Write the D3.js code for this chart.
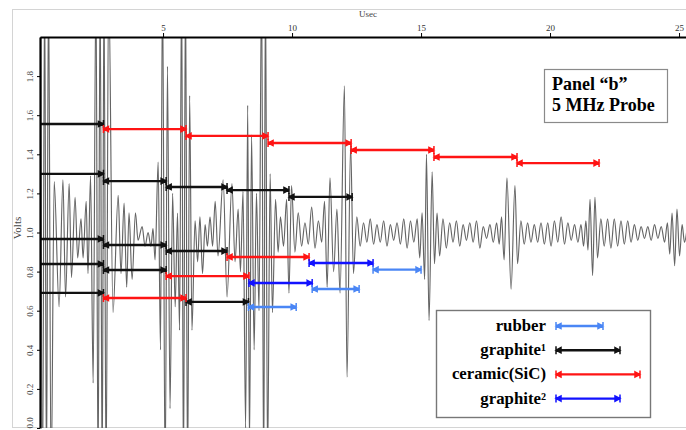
<!DOCTYPE html>
<html>
<head>
<meta charset="utf-8">
<script src="https://cdn.jsdelivr.net/npm/d3@7"></script>
<style>
body { margin: 0; background: #fff; }
svg { display: block; font-family: 'Liberation Serif', 'Times New Roman', serif; }
</style>
</head>
<body>
<svg id="chart" width="686" height="430"></svg>
<script>
// waveform as [usec, volts] extrema
const waveEarly = [[0.25,2.3],[0.33,-0.3],[0.41,2.3],[0.48,-0.3],[0.56,2.3],[0.66,-0.3],[0.78,1.26],[0.97,0.62],
  [1.12,1.27],[1.22,0.67],[1.36,1.25],[1.45,0.77],[1.59,1.18],[1.69,0.87],[1.82,1.07],[1.90,0.87],[2.02,1.16],
  [2.09,0.79],[2.19,1.29],[2.29,0.23],[2.40,2.3],[2.48,-0.3],[2.56,2.3],[2.64,-0.3],[2.71,2.3],[2.79,-0.3],
  [2.89,2.3],[3.06,0.59],[3.26,1.19],[3.37,0.79],[3.49,1.15],[3.59,0.72],[3.68,1.10],[3.80,0.76],[3.93,1.10],
  [4.03,0.96],[4.19,1.03],[4.30,0.93],[4.42,1.0],[4.53,0.93],[4.61,1.02],[4.69,0.86],[4.81,1.36],[4.90,0.4],
  [4.98,2.3],[5.08,-0.3],[5.17,1.85],[5.27,0.1],[5.37,1.2],[5.47,0.62],[5.56,1.1],[5.64,0.5],[5.72,2.3],
  [5.79,-0.3],[5.87,2.3],[5.95,-0.3]]
const waveMid = [[6.03,1.7],[6.12,0.5],[6.24,1.06],[6.34,0.85],[6.43,1.08],[6.53,0.79],[6.63,1.04],[6.72,0.93],
  [6.82,1.08],[6.92,0.93],[7.02,1.16],[7.13,0.88],[7.33,1.27],[7.48,0.67],[7.67,1.25],[7.79,0.85],[7.91,1.12],
  [8.00,0.80],[8.10,1.21],[8.20,0.0],[8.28,1.65],[8.35,-0.1],[8.43,1.5],[8.53,0.4],[8.62,1.2],[8.72,0.6],
  [8.82,2.3],[8.90,-0.3],[8.97,2.3],[9.05,-0.2],[9.15,1.3],[9.24,0.59],[9.36,1.17],[9.46,0.9],[9.55,1.08],
  [9.67,0.93],[9.79,1.17],[9.88,0.69],[9.98,1.24],[10.11,0.9],[10.24,1.1],[10.37,0.93],[10.50,1.05],[10.63,0.94],
  [10.76,1.13],[10.89,0.92],[11.02,1.06],[11.15,0.95],[11.26,1.16],[11.36,0.72],
  [11.47,1.28],[11.61,0.80],[11.74,1.12],[11.86,0.69],[12.03,1.75],[12.13,0.26],[12.27,1.45],[12.38,0.79]]
const waveLate1 = [[12.51,1.08],[12.64,0.93],[12.77,1.05],[12.90,0.95],[13.03,1.07],[13.16,0.94],[13.29,1.04],
  [13.42,0.95],[13.55,1.06],[13.68,0.93],[13.81,1.04],[13.94,0.96],[14.07,1.05],[14.20,0.94],[14.33,1.07],
  [14.46,0.92],[14.59,1.06],[14.72,0.95],[14.85,1.07],[14.95,0.87],[15.04,1.1],
  [15.14,0.76],[15.21,1.40],[15.31,0.55],[15.43,1.31],[15.52,0.84],[15.62,1.1],[15.72,0.88],[15.85,1.07],
  [15.98,0.92],[16.11,1.05],[16.24,0.95],[16.37,1.06],[16.50,0.93],[16.63,1.04],[16.76,0.96],[16.89,1.05],
  [17.02,0.95],[17.15,1.06],[17.28,0.92],[17.41,1.03],[17.54,0.97],[17.67,1.04],[17.80,0.95],[17.93,1.05],
  [18.03,0.94],[18.12,1.08],[18.22,0.86],[18.33,1.28],[18.49,0.71],[18.64,1.24],[18.74,0.84]]
const waveLate2 = [[18.87,1.06],[19.00,0.94],[19.13,1.05],[19.26,0.95],[19.39,1.04],[19.52,0.95],[19.65,1.05],
  [19.78,0.94],[19.91,1.05],[20.04,0.93],[20.17,1.06],[20.30,0.95],[20.43,1.08],[20.56,0.94],[20.69,1.05],
  [20.82,0.96],[20.95,1.04],[21.08,0.95],[21.20,1.04],[21.30,0.93],[21.39,1.06],
  [21.47,0.91],[21.55,1.17],[21.65,0.78],[21.74,1.18],[21.84,0.87],[21.97,1.07],[22.10,0.93],[22.23,1.07],
  [22.36,0.92],[22.49,1.07],[22.62,0.93],[22.75,1.06],[22.88,0.94],[23.01,1.06],[23.14,0.95],[23.27,1.04],
  [23.40,0.96],[23.53,1.03],[23.66,0.97],[23.79,1.03],[23.92,0.96],[24.05,1.04],[24.18,0.97],[24.31,1.03],
  [24.44,0.95],[24.55,1.05],[24.64,0.89],[24.73,1.10],[24.83,0.83],[24.92,1.12],
  [25.02,0.88],[25.12,1.04],[25.21,0.95],[25.31,1.02]]

// time-of-flight markers: [start usec, end usec, level volts]
const graphite1Arrows = [[0.23,2.69,1.555],[0.23,2.69,1.30],[2.69,5.12,1.263],[5.12,7.48,1.233],[7.48,9.88,1.217],
  [9.88,12.33,1.182],[0.23,2.69,0.967],[2.69,5.12,0.936],[5.12,7.48,0.905],[0.23,2.69,0.839],[2.69,5.12,0.808],
  [0.23,2.69,0.691],[5.89,8.31,0.645]]
const ceramicArrows = [[2.69,5.89,1.529],[5.89,9.07,1.494],[9.07,12.29,1.458],[12.29,15.5,1.422],[15.5,18.72,1.386],
  [18.72,21.9,1.355],[7.48,10.66,0.875],[5.12,8.33,0.777],[2.69,5.89,0.665]]
const graphite2Arrows = [[10.66,13.14,0.844],[8.33,10.78,0.742]]
const rubberArrows = [[13.14,15.0,0.81],[10.78,12.6,0.711],[8.31,10.16,0.619]]

const xTicks = [5, 10, 15, 20, 25]
const yTicks = [0, 0.2, 0.4, 0.6, 0.8, 1.0, 1.2, 1.4, 1.6, 1.8]
const legendKeys = ['rubber', 'graphite1', 'ceramic', 'graphite2']
const legendLabels = ['rubber', 'graphite\u00b9', 'ceramic(SiC)', 'graphite\u00b2']

const colors = {rubber: '#4a86f5', graphite1: '#111', ceramic: '#ff1414', graphite2: '#1212ff'}

const svg = d3.select('#chart')
const width = 686, height = 430
const margin = {top: 37, right: 0, bottom: 2, left: 40}
const w = width - margin.left - margin.right
const h = height - margin.top - margin.bottom

// light outer frame
svg.append('rect')
    .attr('x', 12.5).attr('y', 9.5)
    .attr('width', 680).attr('height', 418)
    .attr('fill', 'none').attr('stroke', '#d4d4d4')

const defs = svg.append('defs')
defs.append('clipPath').attr('id', 'plotclip')
    .append('rect').attr('width', w).attr('height', h)

Object.entries(colors).forEach(([k, c]) => {
    defs.append('marker')
        .attr('id', `cap-${k}`)
        .attr('viewBox', '-1 -6 10 12')
        .attr('refX', 7).attr('refY', 0)
        .attr('markerWidth', 10).attr('markerHeight', 12)
        .attr('markerUnits', 'userSpaceOnUse')
        .attr('orient', 'auto-start-reverse')
        .append('path')
        .attr('d', 'M2,-2.6L7,0L2,2.6Z M7,-4V4')
        .attr('fill', c).attr('stroke', c).attr('stroke-width', 1.5)
})

const g = svg.append('g')
        .attr('transform', `translate(${margin.left},${margin.top})`)

const xScale = d3.scaleLinear().domain([0.23, 25.27]).range([0, w])
const yScale = d3.scaleLinear().domain([0, 2]).range([h, 0])

const wave = waveEarly.concat(waveMid, waveLate1, waveLate2)

const line = d3.line()
    .x(d => xScale(d[0]))
    .y(d => yScale(d[1]))
    .curve(d3.curveMonotoneX)

g.append('g').attr('clip-path', 'url(#plotclip)')
    .append('path')
    .datum(wave)
    .attr('d', line)
    .attr('fill', 'none')
    .attr('stroke', '#646464')
    .attr('stroke-width', 1.15)

const arrowSets = [
    {key: 'graphite1', data: graphite1Arrows},
    {key: 'ceramic', data: ceramicArrows},
    {key: 'graphite2', data: graphite2Arrows},
    {key: 'rubber', data: rubberArrows},
]

arrowSets.forEach(set => {
    g.selectAll(`.arr-${set.key}`).data(set.data).enter().append('line')
        .attr('class', `arr-${set.key}`)
        .attr('x1', d => xScale(d[0]))
        .attr('x2', d => xScale(d[1]))
        .attr('y1', d => yScale(d[2]))
        .attr('y2', d => yScale(d[2]))
        .attr('stroke', colors[set.key])
        .attr('stroke-width', 2.4)
        .attr('marker-start', d => d[0] > 0.3 ? `url(#cap-${set.key})` : null)
        .attr('marker-end', `url(#cap-${set.key})`)
})

// axes
const xAxis = d3.axisTop(xScale).tickValues(xTicks).tickSize(4).tickSizeOuter(0).tickFormat(d3.format('d'))
const yAxis = d3.axisLeft(yScale).tickValues(yTicks).tickSize(3).tickSizeOuter(0)

const gx = g.append('g').call(xAxis)
gx.select('.domain').attr('stroke-width', 2.2)
gx.selectAll('text').attr('font-size', 9).attr('font-family', 'Liberation Serif').attr('fill', '#333').attr('y', -6)

const gy = g.append('g').call(yAxis)
gy.select('.domain').attr('stroke-width', 2.2)
gy.selectAll('.tick text').remove()
gy.selectAll('.tick').append('text')
    .attr('transform', 'translate(-7,0) rotate(-90)')
    .attr('text-anchor', d => d === 0 ? 'start' : 'middle')
    .attr('font-size', 9)
    .attr('font-family', 'Liberation Serif')
    .attr('fill', '#444')
    .text(d => d3.format('.1f')(d))

svg.append('text')
    .attr('x', 368).attr('y', 17)
    .attr('text-anchor', 'middle')
    .attr('font-size', 9).attr('fill', '#444')
    .text('Usec')

svg.append('text')
    .attr('transform', 'translate(21,228) rotate(-90)')
    .attr('text-anchor', 'middle')
    .attr('font-size', 11).attr('fill', '#444')
    .text('Volts')

// panel label
svg.append('rect')
    .attr('x', 544.5).attr('y', 69.5).attr('width', 123).attr('height', 53)
    .attr('fill', '#fff').attr('stroke', '#8a8a8a').attr('stroke-width', 1.2)
svg.append('text').attr('x', 552).attr('y', 90)
    .attr('font-size', 18).attr('font-weight', 'bold')
    .text('Panel \u201cb\u201d')
svg.append('text').attr('x', 552).attr('y', 111)
    .attr('font-size', 18).attr('font-weight', 'bold')
    .text('5 MHz Probe')

// legend
const legendEnd = {rubber: 603, graphite1: 620, ceramic: 640, graphite2: 620}
const lg = svg.append('g')
lg.append('rect')
    .attr('x', 436.5).attr('y', 310.5).attr('width', 214).attr('height', 107)
    .attr('fill', '#fff').attr('stroke', '#777').attr('stroke-width', 1.4)

const rows = lg.selectAll('.leg').data(legendKeys).enter().append('g')
    .attr('class', 'leg')
    .attr('transform', (d, i) => `translate(0,${326 + i * 24.2})`)
rows.append('text')
    .attr('x', 546).attr('y', 5)
    .attr('text-anchor', 'end')
    .attr('font-size', 16.8).attr('font-weight', 'bold')
    .text((d, i) => legendLabels[i])
rows.append('line')
    .attr('x1', 556).attr('x2', d => legendEnd[d])
    .attr('y1', 0).attr('y2', 0)
    .attr('stroke', d => colors[d])
    .attr('stroke-width', 2.4)
    .attr('marker-start', d => `url(#cap-${d})`)
    .attr('marker-end', d => `url(#cap-${d})`)
</script>
</body>
</html>
